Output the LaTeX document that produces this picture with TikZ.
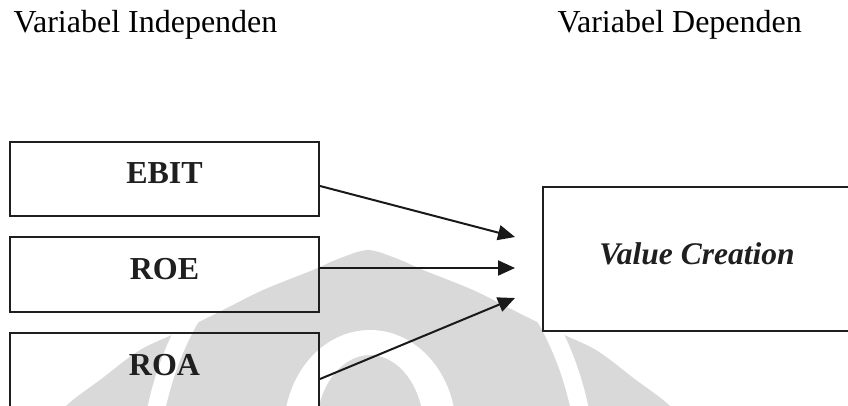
\documentclass[tikz,border=0pt]{standalone}
\usepackage{fontspec}
\setmainfont{Liberation Serif}
\usetikzlibrary{arrows.meta}
\definecolor{markgray}{HTML}{D9D9D9}
\tikzset{
  varbox/.style={draw=black!88, line width=2pt, inner sep=0pt, minimum width=309pt},
  boxlabel/.style={anchor=base, font=\fontsize{32}{38}\selectfont\bfseries, text=black!88},
  headlabel/.style={anchor=base west, font=\fontsize{32}{38}\selectfont, text=black},
  link/.style={line width=2pt, draw=black!90, -{Triangle[length=17pt,width=15pt]}}
}
\begin{document}
\begin{tikzpicture}[x=1pt,y=-1pt]
\useasboundingbox (0,0) rectangle (848,405);
\clip (0,0) rectangle (848,405);
% faint emblem in the background
\begin{scope}
  \fill[markgray] plot[smooth] coordinates {(30,445) (67,405) (100,380) (140,350) (183,330)
      (223,310) (263,290) (313,270) (338,259) (368,250) (398,259) (423,270) (473,290)
      (513,310) (553,330) (596,350) (636,380) (669,405) (706,445)} -- cycle;
  \begin{scope}
    \clip (0,318) rectangle (848,405);
    \fill[white, even odd rule] (368,480) ellipse [x radius=228, y radius=285]
                                (368,480) ellipse [x radius=210, y radius=268];
  \end{scope}
  \fill[white, even odd rule] (370,430) ellipse [x radius=86, y radius=100]
                              (370,430) ellipse [x radius=54, y radius=75];
\end{scope}
% headings
\node[headlabel] (hind) at (10,32) {Variabel Independen};
\node[headlabel] (hdep) at (554,32) {Variabel Dependen};
% independent variables
\node[varbox, minimum height=74pt] (ebit) at (164.5,179) {};
\node[varbox, minimum height=75pt] (roe)  at (164.5,274.5) {};
\node[varbox, minimum height=100pt] (roa) at (164.5,383) {};
\node[boxlabel] (ebitt) at (164.5,183) {EBIT};
\node[boxlabel] (roet)  at (164.5,279) {ROE};
\node[boxlabel] (roat)  at (164.5,375) {ROA};
% dependent variable
\node[varbox, minimum width=312pt, minimum height=144pt] (vc) at (699,259) {};
\node[anchor=base, font=\fontsize{31.5}{37}\selectfont\bfseries\itshape, text=black!88] (vct) at (697,264) {Value Creation};
% arrow tips in front of the dependent box
\coordinate (t1) at (515,237);
\coordinate (t2) at (515,268);
\coordinate (t3) at (515,298);
\draw[link] ([yshift=-7pt]ebit.east) -- (t1);
\draw[link] ([yshift=6.5pt]roe.east) -- (t2);
\draw[link] ([yshift=4pt]roa.east) -- (t3);
\end{tikzpicture}
\end{document}
